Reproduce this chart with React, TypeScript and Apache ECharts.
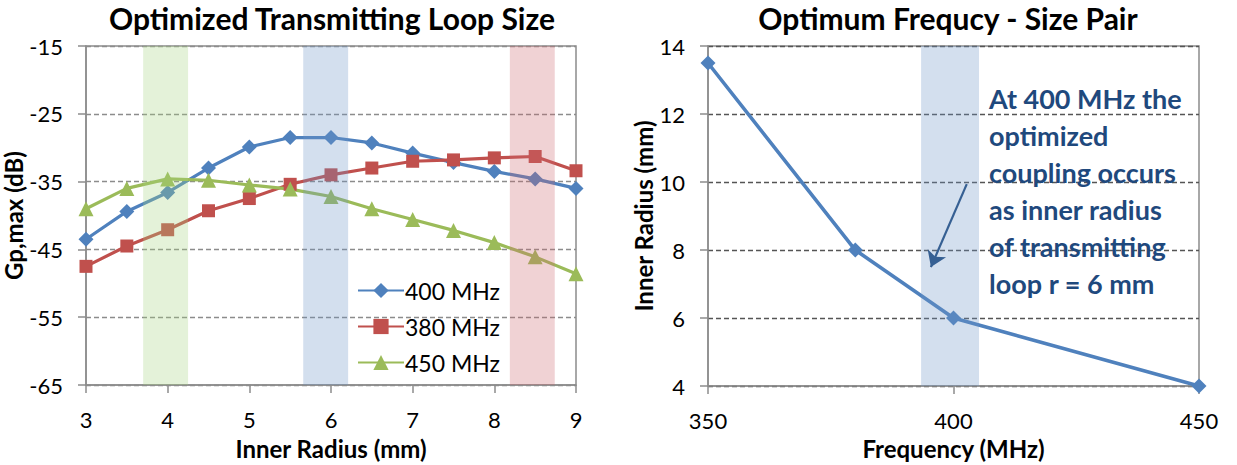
import React, { useEffect, useRef } from "react";
import * as echarts from "echarts";

// ---------- data ----------
const radii = [3, 3.5, 4, 4.5, 5, 5.5, 6, 6.5, 7, 7.5, 8, 8.5, 9];
const gp400 = [-43.5, -39.4, -36.6, -33.0, -29.9, -28.5, -28.5, -29.3, -30.8, -32.2, -33.5, -34.6, -36.0];
const gp380 = [-47.5, -44.5, -42.1, -39.3, -37.5, -35.4, -34.0, -33.0, -32.0, -31.8, -31.5, -31.3, -33.4];
const gp450 = [-39.0, -36.0, -34.6, -34.8, -35.5, -36.1, -37.2, -39.0, -40.6, -42.2, -44.0, -46.1, -48.6];
const seriesNames = ["400 MHz", "380 MHz", "450 MHz"];

const leftYTicks = [-65, -55, -45, -35, -25, -15];
const leftBandStart = [3.7, 5.66, 8.19];
const leftBandEnd = [4.25, 6.21, 8.74];

const freqs = [350, 380, 400, 450];
const optRadius = [13.5, 8, 6, 4];
const rightBandStart = [393.4];
const rightBandEnd = [405.2];

const noteLines = [
  "At 400 MHz the",
  "optimized",
  "coupling occurs",
  "as inner radius",
  "of transmitting",
  "loop r = 6 mm",
];

// ---------- styles ----------
const FONT = "Lato, 'Open Sans', 'DejaVu Sans', sans-serif";
const BLUE = "#4f81bd";
const RED = "#c0504d";
const GREEN = "#9bbb59";
const NOTE = "#1f497d";
const LEFT_BAND_COLORS = [
  "rgba(165,212,128,0.3)",
  "rgba(108,148,198,0.3)",
  "rgba(205,105,112,0.3)",
];
const RIGHT_BAND_COLORS = ["rgba(108,148,198,0.3)"];
const ARROW_FROM = [402.7, 9.94];
const ARROW_TO = [395.4, 7.5];

function bandRenderer(colors: string[], yLow: number, yHigh: number) {
  return (params: any, api: any) => {
    const p0 = api.coord([api.value(0), yHigh]);
    const p1 = api.coord([api.value(1), yLow]);
    return {
      type: "rect",
      shape: { x: p0[0], y: p0[1], width: p1[0] - p0[0], height: p1[1] - p0[1] },
      style: { fill: colors[params.dataIndex] },
    };
  };
}

export default function App() {
  const ref = useRef<HTMLDivElement>(null);

  useEffect(() => {
    document.body.style.margin = "0";
    if (!ref.current) return;
    const chart = echarts.init(ref.current, undefined, { renderer: "svg" });

    const axisLine = { show: true, lineStyle: { color: "#8c8c8c", width: 1.5 } };
    const axisTick = { show: true, length: 8, inside: false, lineStyle: { color: "#8c8c8c", width: 1.5 } };
    const tickLabel = { color: "#000", fontSize: 22, fontFamily: FONT, margin: 23 };
    const nameStyle = { color: "#000", fontSize: 24, fontWeight: "bold" as const, fontFamily: FONT };

    const lineSeries = (name: string, ys: number[], color: string, symbol: string, size: number) => ({
      name,
      type: "line",
      xAxisIndex: 0,
      yAxisIndex: 0,
      data: radii.map((r, i) => [r, ys[i]]),
      symbol,
      symbolSize: size,
      showSymbol: true,
      lineStyle: { color, width: 3.2 },
      itemStyle: { color },
      z: 2,
    });

    const option: any = {
      animation: false,
      grid: [
        { left: 86, top: 46, width: 490, height: 340, show: true, borderColor: "#8c8c8c", borderWidth: 1.5, containLabel: false },
        { left: 708, top: 46, width: 491, height: 342, show: true, borderColor: "#8c8c8c", borderWidth: 1.5, containLabel: false },
      ],
      xAxis: [
        {
          type: "value", gridIndex: 0, min: 3, max: 9, interval: 1,
          axisLine, axisTick, axisLabel: tickLabel, splitLine: { show: false },
          name: "Inner Radius (mm)", nameLocation: "middle", nameGap: 51, nameTextStyle: nameStyle,
        },
        {
          type: "value", gridIndex: 1, min: 350, max: 450, interval: 50,
          axisLine, axisTick, axisLabel: tickLabel, splitLine: { show: false },
          name: "Frequency (MHz)", nameLocation: "middle", nameGap: 49, nameTextStyle: nameStyle,
        },
      ],
      yAxis: [
        {
          type: "value", gridIndex: 0, min: -65, max: -15,
          axisLine, axisTick: { ...axisTick, customValues: leftYTicks },
          axisLabel: { ...tickLabel, customValues: leftYTicks },
          splitLine: { show: true, lineStyle: { color: "#8c8c8c", width: 1.3, type: [5, 3] } },
          name: "Gp,max (dB)", nameLocation: "middle", nameGap: 56, nameTextStyle: nameStyle,
        },
        {
          type: "value", gridIndex: 1, min: 4, max: 14, interval: 2,
          axisLine, axisTick, axisLabel: tickLabel,
          splitLine: { show: true, lineStyle: { color: "#555", width: 1.3, type: [5, 3] } },
          name: "Inner Radius (mm)", nameLocation: "middle", nameGap: 52, nameTextStyle: nameStyle,
        },
      ],
      legend: {
        data: seriesNames,
        orient: "vertical",
        left: 352,
        top: 274,
        itemWidth: 46,
        itemHeight: 19,
        itemGap: 13,
        textStyle: { color: "#000", fontSize: 23, fontFamily: FONT, padding: [0, 0, 0, -4] },
      },
      series: [
        lineSeries(seriesNames[0], gp400, BLUE, "diamond", 15),
        lineSeries(seriesNames[1], gp380, RED, "rect", 13),
        lineSeries(seriesNames[2], gp450, GREEN, "triangle", 15),
        {
          type: "custom",
          xAxisIndex: 0,
          yAxisIndex: 0,
          z: 10,
          silent: true,
          clip: false,
          data: leftBandStart.map((s, i) => [s, leftBandEnd[i]]),
          encode: { x: [0, 1] },
          renderItem: bandRenderer(LEFT_BAND_COLORS, -65, -15),
        },
        {
          name: "optimum",
          type: "line",
          xAxisIndex: 1,
          yAxisIndex: 1,
          data: freqs.map((f, i) => [f, optRadius[i]]),
          symbol: "diamond",
          symbolSize: 15,
          lineStyle: { color: BLUE, width: 3.6 },
          itemStyle: { color: BLUE },
          z: 2,
          markLine: {
            silent: true,
            symbol: ["none", "arrow"],
            symbolSize: 15,
            label: { show: false },
            lineStyle: { color: NOTE, width: 2.2, type: "solid" },
            data: [[{ coord: ARROW_FROM }, { coord: ARROW_TO }]],
          },
        },
        {
          type: "custom",
          xAxisIndex: 1,
          yAxisIndex: 1,
          z: 10,
          silent: true,
          clip: false,
          data: rightBandStart.map((s, i) => [s, rightBandEnd[i]]),
          encode: { x: [0, 1] },
          renderItem: bandRenderer(RIGHT_BAND_COLORS, 4, 14),
        },
      ],
      graphic: [
        {
          type: "text", x: 332, y: 18,
          style: { text: "Optimized Transmitting Loop Size", textAlign: "center", textVerticalAlign: "middle", fill: "#000", font: `bold 30px ${FONT}` },
        },
        {
          type: "text", x: 948, y: 18,
          style: { text: "Optimum Frequcy - Size Pair", textAlign: "center", textVerticalAlign: "middle", fill: "#000", font: `bold 30px ${FONT}` },
        },
        {
          type: "text", x: 989, y: 80, z: 20,
          style: { text: noteLines.join("\n"), lineHeight: 37, fill: NOTE, font: `bold 27px ${FONT}`, textAlign: "left", textVerticalAlign: "top" },
        },
      ],
    };

    chart.setOption(option);
    return () => chart.dispose();
  }, []);

  return <div ref={ref} style={{ width: 1237, height: 465 }} />;
}
